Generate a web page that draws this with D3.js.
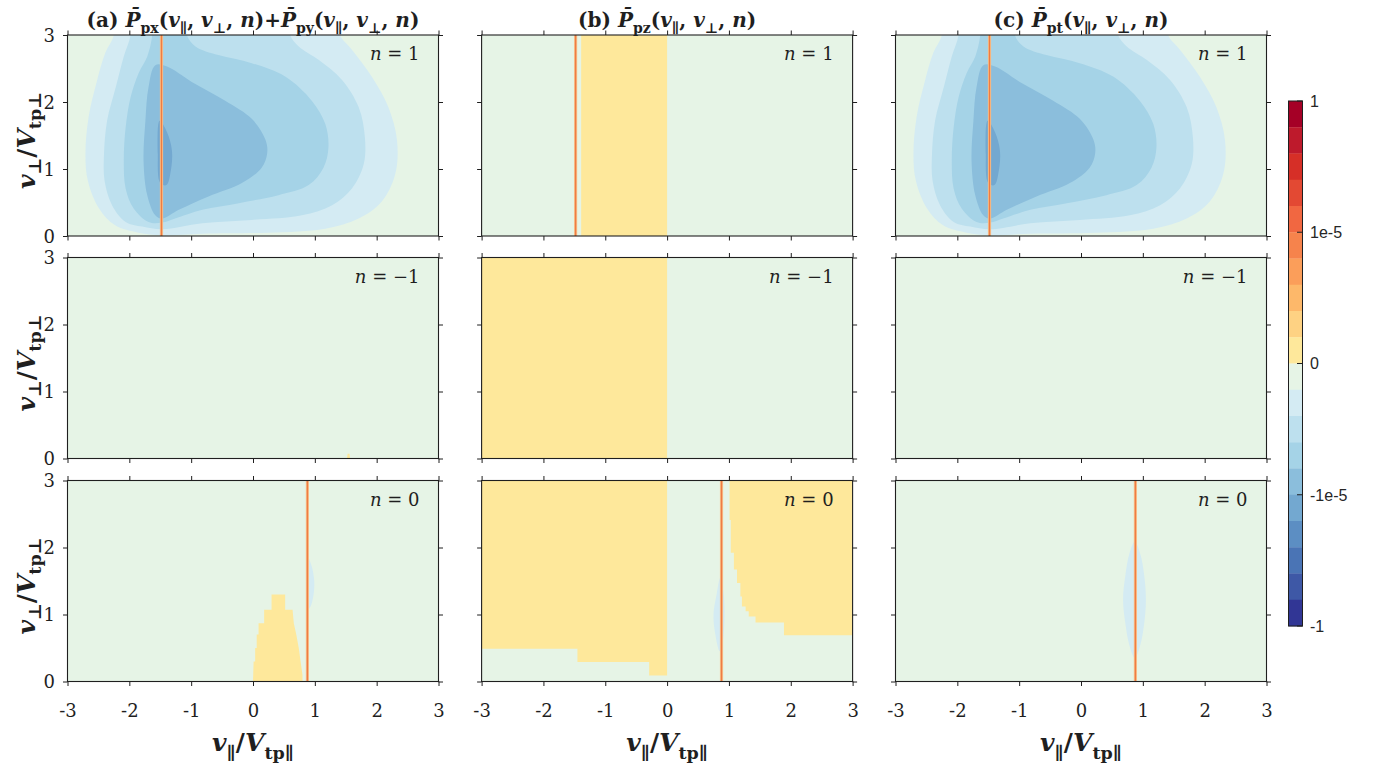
<!DOCTYPE html>
<html>
<head>
<meta charset="utf-8">
<script src="https://cdn.jsdelivr.net/npm/d3@7"></script>
<style>
  html, body { margin: 0; padding: 0; background: #fff; }
  svg { display: block; }
</style>
</head>
<body>
<svg id="chart" width="1385" height="764"></svg>
<script>
// ---- data -------------------------------------------------------------
const vParTicks = [-3, -2, -1, 0, 1, 2, 3];
const vPerpTicks = [0, 1, 2, 3];
const harmonics = [1, -1, 0];                 // one row per harmonic n
const resonanceV = [-1.48, null, 0.88];       // resonance line v∥ per row

// 20 colour bands of the colour bar, from +1 (top) to -1 (bottom)
const bandColors = ["#a50026","#be1a2c","#d62f27","#e34933","#f16741","#f6834c",
  "#fb9e5a","#fdb86a","#fed283","#fee89b","#e6f4e6","#d4ebf3","#bde0ee","#a5d3e7",
  "#8bbedc","#73a8d0","#5c8ec3","#4a74b5","#3e58a6","#313695"];
const cbTickValues = [1, 1e-5, 0, -1e-5, -1];
const cbTickLabels = ["1", "1e-5", "0", "-1e-5", "-1"];
const zeroBand = 10;   // band holding values just below zero (background)

// n = 1 power density: nested negative levels (outer to inner), in (v∥, v⊥)
const levelN1a = [[-2.25,3.3],[-2.25,3.0],[-2.39,2.73],[-2.52,2.33],[-2.66,1.77],[-2.71,1.22],
  [-2.67,0.82],[-2.49,0.41],[-2.23,0.16],[-1.85,0.05],[-1.47,0.01],[-0.82,0.035],[0.25,0.05],
  [1.17,0.11],[1.71,0.26],[2.08,0.51],[2.30,0.92],[2.33,1.42],[2.19,1.92],[1.92,2.38],
  [1.60,2.78],[1.41,3.0],[1.41,3.3]];
const levelN1b = [[-1.98,3.3],[-1.98,3.0],[-2.09,2.68],[-2.22,2.22],[-2.36,1.72],[-2.41,1.22],
  [-2.40,0.82],[-2.28,0.46],[-2.06,0.21],[-1.79,0.14],[-1.47,0.10],[-0.82,0.19],[-0.02,0.24],
  [0.79,0.31],[1.28,0.46],[1.60,0.71],[1.79,1.07],[1.81,1.47],[1.71,1.92],[1.44,2.33],
  [1.06,2.63],[0.74,2.83],[0.60,3.0],[0.60,3.3]];
const levelN1c = [[-1.63,3.3],[-1.63,3.0],[-1.71,2.68],[-1.85,2.43],[-1.98,2.07],[-2.06,1.62],
  [-2.09,1.12],[-2.06,0.71],[-1.93,0.41],[-1.69,0.21],[-1.47,0.20],[-1.26,0.26],[-0.82,0.39],
  [-0.23,0.49],[0.41,0.61],[0.90,0.76],[1.14,1.02],[1.22,1.32],[1.17,1.67],[0.95,2.02],
  [0.52,2.38],[-0.02,2.58],[-0.56,2.70],[-0.93,2.83],[-1.07,3.0],[-1.07,3.3]];
const levelN1d = [[-1.58,2.55],[-1.69,2.22],[-1.74,1.72],[-1.77,1.12],[-1.71,0.61],[-1.58,0.31],
  [-1.47,0.26],[-1.20,0.39],[-0.72,0.59],[-0.18,0.79],[0.14,1.02],[0.23,1.24],[0.20,1.44],
  [-0.02,1.75],[-0.45,2.02],[-0.99,2.30],[-1.39,2.53]];
const levelN1e = [[-1.51,1.72],[-1.39,1.55],[-1.31,1.27],[-1.33,0.97],[-1.40,0.76],[-1.50,0.79],
  [-1.54,1.22]];

// n = 0 small negative lenses next to the resonance line
const lensA0 = [[0.88,1.87],[0.95,1.72],[0.99,1.5],[0.98,1.3],[0.93,1.12],[0.88,1.07],[0.86,1.3],[0.86,1.65]];
const lensB0 = [[0.86,1.55],[0.80,1.3],[0.75,1.0],[0.78,0.7],[0.85,0.45],[0.90,0.6],[0.93,1.0],[0.91,1.35]];
const lensC0 = [[0.87,2.09],[0.96,1.9],[1.02,1.6],[1.05,1.22],[1.02,0.85],[0.96,0.55],[0.87,0.35],
  [0.78,0.55],[0.72,0.85],[0.68,1.22],[0.72,1.6],[0.78,1.9]];

// small positive regions (grid-resolved, hence stepped)
const posA0 = [[0.0,0],[0.01,0.3],[0.035,0.3],[0.035,0.5],[0.06,0.5],[0.06,0.7],[0.09,0.7],[0.09,0.87],
  [0.18,0.87],[0.18,1.07],[0.30,1.07],[0.30,1.30],[0.52,1.30],[0.52,1.07],[0.64,1.07],[0.66,0.87],
  [0.70,0.70],[0.74,0.5],[0.77,0.3],[0.80,0.1],[0.80,0]];
const posAm1 = [[1.52,0],[1.53,0.07],[1.56,0.07],[1.57,0]];
const posB1 = [[-1.39,0],[-1.39,3],[0,3],[0,0]];
const posBm1 = [[-3,0],[-3,3],[0,3],[0,0]];
const posB0left = [[-3,3],[0,3],[0,0.09],[-0.29,0.09],[-0.29,0.29],[-1.45,0.29],[-1.45,0.49],[-3,0.49]];
const posB0right = [[1.01,3],[3,3],[3,0.69],[1.89,0.69],[1.89,0.88],[1.43,0.88],[1.43,0.97],
  [1.32,0.97],[1.32,1.05],[1.27,1.05],[1.27,1.12],[1.21,1.12],[1.21,1.27],[1.185,1.27],
  [1.185,1.47],[1.13,1.47],[1.13,1.67],[1.08,1.67],[1.08,1.92],[1.03,1.92],[1.03,2.41],[1.01,2.41]];

// which filled levels go in which panel: [column, row, colour band, outline]
const smoothLevels = [
  [0,0,11,levelN1a],[0,0,12,levelN1b],[0,0,13,levelN1c],[0,0,14,levelN1d],[0,0,15,levelN1e],
  [2,0,11,levelN1a],[2,0,12,levelN1b],[2,0,13,levelN1c],[2,0,14,levelN1d],[2,0,15,levelN1e],
  [0,2,11,lensA0],[1,2,11,lensB0],[2,2,11,lensC0]
];
const steppedLevels = [
  [0,2,9,posA0],[0,1,9,posAm1],[1,0,9,posB1],[1,1,9,posBm1],[1,2,9,posB0left],[1,2,9,posB0right]
];

// ---- text pieces ------------------------------------------------------
// kinds: u = upright, i = italic, su = subscript upright, si = subscript italic
const PBAR = "P\u0304";
const titles = [
  [["(a) ","u"],[PBAR,"i"],["px","su"],["(","u"],["v","i"],["\u2225","su"],[", ","u"],["v","i"],["\u22a5","su"],[", ","u"],["n","i"],[")+","u"],
   [PBAR,"i"],["py","su"],["(","u"],["v","i"],["\u2225","su"],[", ","u"],["v","i"],["\u22a5","su"],[", ","u"],["n","i"],[")","u"]],
  [["(b) ","u"],[PBAR,"i"],["pz","su"],["(","u"],["v","i"],["\u2225","su"],[", ","u"],["v","i"],["\u22a5","su"],[", ","u"],["n","i"],[")","u"]],
  [["(c) ","u"],[PBAR,"i"],["pt","su"],["(","u"],["v","i"],["\u2225","su"],[", ","u"],["v","i"],["\u22a5","su"],[", ","u"],["n","i"],[")","u"]]
];
const yLabel = [["v","i"],["\u22a5","su"],["/","u"],["V","i"],["tp\u22a5","su"]];
const xLabel = [["v","i"],["\u2225","su"],["/","u"],["V","i"],["tp\u2225","su"]];

// ---- layout -----------------------------------------------------------
const colX = [67.5, 481.6, 895.5];
const rowY = [35, 257.5, 480.5];
const pw = 371, ph = 201;
const serif = '"DejaVu Serif", serif';
const ink = "#1f1f1f";

const svg = d3.select("#chart");

function mathText(g, parts, fs, weight, subShift = 0.3) {
  const t = g.append("text").style("font-family", serif).attr("font-size", fs)
    .attr("font-weight", weight).attr("fill", ink);
  let down = false;
  const off = fs * subShift;
  parts.forEach(([s, k]) => {
    const sub = k.startsWith("s");
    const ts = t.append("tspan").text(s)
      .attr("font-style", k.endsWith("i") ? "italic" : "normal")
      .attr("font-size", sub ? fs * 0.7 : fs);
    if (sub && !down) { ts.attr("dy", off); down = true; }
    else if (!sub && down) { ts.attr("dy", -off); down = false; }
  });
  return t;
}

const defs = svg.append("defs");
const smoothLine = d3.line().curve(d3.curveCatmullRomClosed.alpha(0.5));
const stepLine = d3.line().curve(d3.curveLinearClosed);

for (let c = 0; c < 3; c++) {
  const x = d3.scaleLinear().domain([-3, 3]).range([colX[c], colX[c] + pw]);
  for (let r = 0; r < 3; r++) {
    const y = d3.scaleLinear().domain([0, 3]).range([rowY[r] + ph, rowY[r]]);
    const id = `clip-${c}-${r}`;
    defs.append("clipPath").attr("id", id).append("rect")
      .attr("x", x(-3)).attr("y", y(3)).attr("width", x(3) - x(-3)).attr("height", y(0) - y(3));
    const g = svg.append("g");
    const body = g.append("g").attr("clip-path", `url(#${id})`);

    body.append("rect").attr("x", x(-3)).attr("y", y(3))
      .attr("width", x(3) - x(-3)).attr("height", y(0) - y(3))
      .attr("fill", bandColors[zeroBand]);

    smoothLine.x(d => x(d[0])).y(d => y(d[1]));
    stepLine.x(d => x(d[0])).y(d => y(d[1]));
    smoothLevels.filter(d => d[0] === c && d[1] === r).forEach(d => {
      body.append("path").attr("d", smoothLine(d[3])).attr("fill", bandColors[d[2]]);
    });
    steppedLevels.filter(d => d[0] === c && d[1] === r).forEach(d => {
      body.append("path").attr("d", stepLine(d[3])).attr("fill", bandColors[d[2]]);
    });

    if (resonanceV[r] !== null) {
      const xv = x(resonanceV[r]);
      body.append("line").attr("x1", xv).attr("x2", xv).attr("y1", y(0)).attr("y2", y(3))
        .attr("stroke", "#f9c68f").attr("stroke-width", 3.2);
      body.append("line").attr("x1", xv).attr("x2", xv).attr("y1", y(0)).attr("y2", y(3))
        .attr("stroke", "#ee7c45").attr("stroke-width", 1.5);
    }

    // axes with outward ticks on all four sides
    const tk = 4.5;
    const axB = g.append("g").attr("transform", `translate(0,${y(0)})`)
      .call(d3.axisBottom(x).tickValues(vParTicks).tickSize(tk).tickSizeOuter(0).tickPadding(17)
        .tickFormat(d => r === 2 ? String(d) : ""));
    const axT = g.append("g").attr("transform", `translate(0,${y(3)})`)
      .call(d3.axisTop(x).tickValues(vParTicks).tickSize(tk).tickSizeOuter(0).tickFormat(() => ""));
    const axL = g.append("g").attr("transform", `translate(${x(-3)},0)`)
      .call(d3.axisLeft(y).tickValues(vPerpTicks).tickSize(tk).tickSizeOuter(0).tickPadding(8)
        .tickFormat(d => c === 0 ? String(d) : ""));
    const axR = g.append("g").attr("transform", `translate(${x(3)},0)`)
      .call(d3.axisRight(y).tickValues(vPerpTicks).tickSize(tk).tickSizeOuter(0).tickFormat(() => ""));
    [axB, axT, axL, axR].forEach(a => {
      a.attr("font-family", null);
      a.select(".domain").remove();
      a.selectAll("line").attr("stroke", ink).attr("stroke-width", 1);
      a.selectAll("text").style("font-family", serif).attr("font-size", 18).attr("fill", ink);
    });
    axL.selectAll("text").attr("dy", "0.36em");
    axB.selectAll("text").attr("dy", "0.78em");

    g.append("rect").attr("x", x(-3)).attr("y", y(3))
      .attr("width", x(3) - x(-3)).attr("height", y(0) - y(3))
      .attr("fill", "none").attr("stroke", ink).attr("stroke-width", 1.1);

    // harmonic number
    const nval = harmonics[r] < 0 ? "\u2212" + Math.abs(harmonics[r]) : String(harmonics[r]);
    mathText(g, [["n", "i"], [" = " + nval, "u"]], 18, "normal")
      .attr("x", x(3) - 19).attr("y", y(3) + 25).attr("text-anchor", "end");

    if (r === 0) {
      mathText(g, titles[c], 20, "bold")
        .attr("x", (x(-3) + x(3)) / 2).attr("y", 26.5).attr("text-anchor", "middle");
    }
    if (r === 2) {
      mathText(g, xLabel, 25, "bold")
        .attr("x", (x(-3) + x(3)) / 2).attr("y", 751).attr("text-anchor", "middle");
    }
    if (c === 0) {
      mathText(g, yLabel, 25, "bold", 0.22)
        .attr("text-anchor", "middle")
        .attr("transform", `translate(35,${(y(0) + y(3)) / 2 + 5}) rotate(-90)`);
    }
  }
}

// ---- colour bar -------------------------------------------------------
const cbX = 1288.5, cbW = 14, cbTop = 101, cbBot = 626;
const bandScale = d3.scaleLinear().domain([0, bandColors.length]).range([cbTop, cbBot]);
const cbScale = d3.scaleSymlog().constant(1e-10).domain([-1, 1]).range([cbBot, cbTop]);
const cb = svg.append("g");
cb.selectAll("rect.band").data(bandColors).join("rect").attr("class", "band")
  .attr("x", cbX).attr("width", cbW)
  .attr("y", (d, i) => bandScale(i)).attr("height", (d, i) => bandScale(i + 1) - bandScale(i) + 0.3)
  .attr("fill", d => d);
cb.append("rect").attr("x", cbX).attr("y", cbTop).attr("width", cbW).attr("height", cbBot - cbTop)
  .attr("fill", "none").attr("stroke", ink).attr("stroke-width", 1);
cb.selectAll("line.tick").data(cbTickValues).join("line").attr("class", "tick")
  .attr("x1", cbX + cbW - 5.5).attr("x2", cbX + cbW)
  .attr("y1", d => cbScale(d)).attr("y2", d => cbScale(d))
  .attr("stroke", ink).attr("stroke-width", 1);
cb.selectAll("text").data(cbTickValues).join("text")
  .attr("x", cbX + cbW + 7.5).attr("y", d => cbScale(d)).attr("dy", "0.36em")
  .style("font-family", '"Liberation Sans", Arial, Helvetica, sans-serif')
  .attr("font-size", 16).attr("fill", "#262626")
  .text((d, i) => cbTickLabels[i]);
</script>
</body>
</html>
